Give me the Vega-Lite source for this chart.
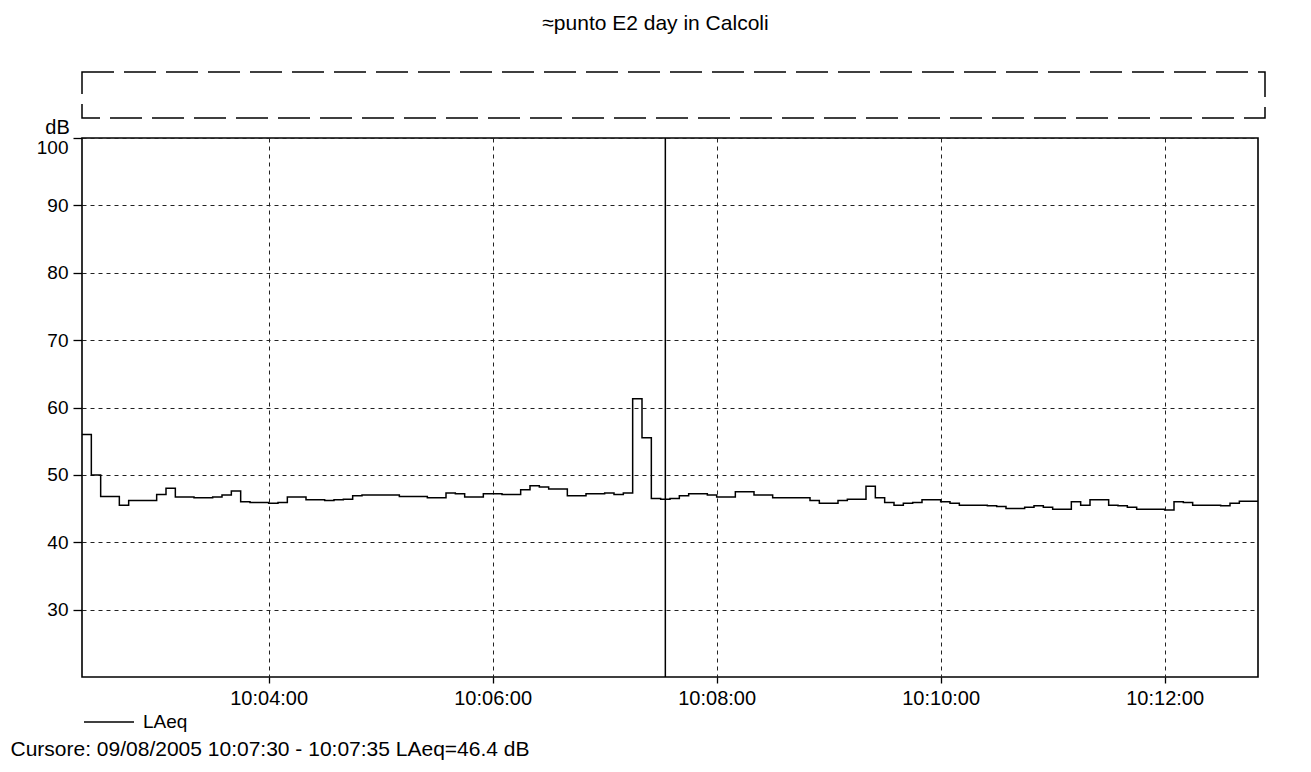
{
  "$schema": "https://vega.github.io/schema/vega-lite/v6.json",
  "padding": {"left": 9, "top": 13, "right": 10, "bottom": 5},
  "background": "white",
  "title": {"text": "≈punto E2 day in Calcoli", "fontSize": 21, "fontWeight": "normal", "font": "Liberation Sans", "color": "black", "offset": 37, "anchor": "middle", "dx": 18},
  "bounds": "flush",
  "spacing": 20,
  "config": {
    "font": "Liberation Sans",
    "view": {"stroke": "black", "strokeWidth": 1.6},
    "axis": {"labelColor": "black", "labelFontSize": 19, "labelFont": "Liberation Sans", "titleColor": "black", "titleFont": "Liberation Sans", "titleFontSize": 20, "titleFontWeight": "normal", "tickColor": "black", "tickWidth": 1.3, "gridColor": "#222222", "gridDash": [4, 4], "gridWidth": 1, "domain": false}
  },
  "vconcat": [
    {
      "width": 1183,
      "height": 46,
      "data": {"values": []},
      "mark": {"type": "point", "opacity": 0},
      "encoding": {},
      "view": {"stroke": "black", "strokeWidth": 1.5, "strokeDash": [32, 10]}
    },
    {
      "width": 1176,
      "height": 539,
      "layer": [
        {
          "data": {"values": [
            {"t": "2005-08-09T10:02:20", "v": 56.0},
            {"t": "2005-08-09T10:02:25", "v": 50.0},
            {"t": "2005-08-09T10:02:30", "v": 46.8},
            {"t": "2005-08-09T10:02:35", "v": 46.8},
            {"t": "2005-08-09T10:02:40", "v": 45.5},
            {"t": "2005-08-09T10:02:45", "v": 46.2},
            {"t": "2005-08-09T10:02:50", "v": 46.2},
            {"t": "2005-08-09T10:02:55", "v": 46.2},
            {"t": "2005-08-09T10:03:00", "v": 47.1},
            {"t": "2005-08-09T10:03:05", "v": 48.0},
            {"t": "2005-08-09T10:03:10", "v": 46.7},
            {"t": "2005-08-09T10:03:15", "v": 46.7},
            {"t": "2005-08-09T10:03:20", "v": 46.6},
            {"t": "2005-08-09T10:03:25", "v": 46.6},
            {"t": "2005-08-09T10:03:30", "v": 46.7},
            {"t": "2005-08-09T10:03:35", "v": 47.0},
            {"t": "2005-08-09T10:03:40", "v": 47.6},
            {"t": "2005-08-09T10:03:45", "v": 46.0},
            {"t": "2005-08-09T10:03:50", "v": 45.9},
            {"t": "2005-08-09T10:03:55", "v": 45.9},
            {"t": "2005-08-09T10:04:00", "v": 45.8},
            {"t": "2005-08-09T10:04:05", "v": 45.9},
            {"t": "2005-08-09T10:04:10", "v": 46.7},
            {"t": "2005-08-09T10:04:15", "v": 46.7},
            {"t": "2005-08-09T10:04:20", "v": 46.3},
            {"t": "2005-08-09T10:04:25", "v": 46.3},
            {"t": "2005-08-09T10:04:30", "v": 46.2},
            {"t": "2005-08-09T10:04:35", "v": 46.3},
            {"t": "2005-08-09T10:04:40", "v": 46.4},
            {"t": "2005-08-09T10:04:45", "v": 46.9},
            {"t": "2005-08-09T10:04:50", "v": 47.0},
            {"t": "2005-08-09T10:04:55", "v": 47.0},
            {"t": "2005-08-09T10:05:00", "v": 47.0},
            {"t": "2005-08-09T10:05:05", "v": 47.0},
            {"t": "2005-08-09T10:05:10", "v": 46.8},
            {"t": "2005-08-09T10:05:15", "v": 46.8},
            {"t": "2005-08-09T10:05:20", "v": 46.8},
            {"t": "2005-08-09T10:05:25", "v": 46.6},
            {"t": "2005-08-09T10:05:30", "v": 46.6},
            {"t": "2005-08-09T10:05:35", "v": 47.3},
            {"t": "2005-08-09T10:05:40", "v": 47.2},
            {"t": "2005-08-09T10:05:45", "v": 46.7},
            {"t": "2005-08-09T10:05:50", "v": 46.7},
            {"t": "2005-08-09T10:05:55", "v": 47.2},
            {"t": "2005-08-09T10:06:00", "v": 47.2},
            {"t": "2005-08-09T10:06:05", "v": 47.1},
            {"t": "2005-08-09T10:06:10", "v": 47.1},
            {"t": "2005-08-09T10:06:15", "v": 47.8},
            {"t": "2005-08-09T10:06:20", "v": 48.4},
            {"t": "2005-08-09T10:06:25", "v": 48.2},
            {"t": "2005-08-09T10:06:30", "v": 47.9},
            {"t": "2005-08-09T10:06:35", "v": 47.9},
            {"t": "2005-08-09T10:06:40", "v": 46.9},
            {"t": "2005-08-09T10:06:45", "v": 46.9},
            {"t": "2005-08-09T10:06:50", "v": 47.2},
            {"t": "2005-08-09T10:06:55", "v": 47.2},
            {"t": "2005-08-09T10:07:00", "v": 47.3},
            {"t": "2005-08-09T10:07:05", "v": 47.1},
            {"t": "2005-08-09T10:07:10", "v": 47.3},
            {"t": "2005-08-09T10:07:15", "v": 61.3},
            {"t": "2005-08-09T10:07:20", "v": 55.5},
            {"t": "2005-08-09T10:07:25", "v": 46.5},
            {"t": "2005-08-09T10:07:30", "v": 46.4},
            {"t": "2005-08-09T10:07:35", "v": 46.5},
            {"t": "2005-08-09T10:07:40", "v": 46.9},
            {"t": "2005-08-09T10:07:45", "v": 47.2},
            {"t": "2005-08-09T10:07:50", "v": 47.2},
            {"t": "2005-08-09T10:07:55", "v": 47.0},
            {"t": "2005-08-09T10:08:00", "v": 46.7},
            {"t": "2005-08-09T10:08:05", "v": 46.7},
            {"t": "2005-08-09T10:08:10", "v": 47.5},
            {"t": "2005-08-09T10:08:15", "v": 47.5},
            {"t": "2005-08-09T10:08:20", "v": 47.0},
            {"t": "2005-08-09T10:08:25", "v": 47.0},
            {"t": "2005-08-09T10:08:30", "v": 46.6},
            {"t": "2005-08-09T10:08:35", "v": 46.6},
            {"t": "2005-08-09T10:08:40", "v": 46.6},
            {"t": "2005-08-09T10:08:45", "v": 46.6},
            {"t": "2005-08-09T10:08:50", "v": 46.2},
            {"t": "2005-08-09T10:08:55", "v": 45.8},
            {"t": "2005-08-09T10:09:00", "v": 45.8},
            {"t": "2005-08-09T10:09:05", "v": 46.2},
            {"t": "2005-08-09T10:09:10", "v": 46.4},
            {"t": "2005-08-09T10:09:15", "v": 46.4},
            {"t": "2005-08-09T10:09:20", "v": 48.3},
            {"t": "2005-08-09T10:09:25", "v": 46.6},
            {"t": "2005-08-09T10:09:30", "v": 45.9},
            {"t": "2005-08-09T10:09:35", "v": 45.5},
            {"t": "2005-08-09T10:09:40", "v": 45.8},
            {"t": "2005-08-09T10:09:45", "v": 45.9},
            {"t": "2005-08-09T10:09:50", "v": 46.3},
            {"t": "2005-08-09T10:09:55", "v": 46.3},
            {"t": "2005-08-09T10:10:00", "v": 46.0},
            {"t": "2005-08-09T10:10:05", "v": 45.8},
            {"t": "2005-08-09T10:10:10", "v": 45.5},
            {"t": "2005-08-09T10:10:15", "v": 45.5},
            {"t": "2005-08-09T10:10:20", "v": 45.5},
            {"t": "2005-08-09T10:10:25", "v": 45.4},
            {"t": "2005-08-09T10:10:30", "v": 45.3},
            {"t": "2005-08-09T10:10:35", "v": 45.0},
            {"t": "2005-08-09T10:10:40", "v": 45.0},
            {"t": "2005-08-09T10:10:45", "v": 45.2},
            {"t": "2005-08-09T10:10:50", "v": 45.4},
            {"t": "2005-08-09T10:10:55", "v": 45.2},
            {"t": "2005-08-09T10:11:00", "v": 44.9},
            {"t": "2005-08-09T10:11:05", "v": 44.9},
            {"t": "2005-08-09T10:11:10", "v": 46.0},
            {"t": "2005-08-09T10:11:15", "v": 45.5},
            {"t": "2005-08-09T10:11:20", "v": 46.3},
            {"t": "2005-08-09T10:11:25", "v": 46.3},
            {"t": "2005-08-09T10:11:30", "v": 45.5},
            {"t": "2005-08-09T10:11:35", "v": 45.4},
            {"t": "2005-08-09T10:11:40", "v": 45.2},
            {"t": "2005-08-09T10:11:45", "v": 44.9},
            {"t": "2005-08-09T10:11:50", "v": 44.9},
            {"t": "2005-08-09T10:11:55", "v": 44.9},
            {"t": "2005-08-09T10:12:00", "v": 44.8},
            {"t": "2005-08-09T10:12:05", "v": 46.0},
            {"t": "2005-08-09T10:12:10", "v": 45.9},
            {"t": "2005-08-09T10:12:15", "v": 45.5},
            {"t": "2005-08-09T10:12:20", "v": 45.5},
            {"t": "2005-08-09T10:12:25", "v": 45.5},
            {"t": "2005-08-09T10:12:30", "v": 45.4},
            {"t": "2005-08-09T10:12:35", "v": 45.8},
            {"t": "2005-08-09T10:12:40", "v": 46.1},
            {"t": "2005-08-09T10:12:45", "v": 46.1},
            {"t": "2005-08-09T10:12:50", "v": 46.1}
          ]},
          "mark": {"type": "line", "interpolate": "step-after", "strokeWidth": 1.5},
          "encoding": {
            "x": {
              "field": "t", "type": "temporal",
              "scale": {"domain": [
                {"year": 2005, "month": 8, "date": 9, "hours": 10, "minutes": 2, "seconds": 20},
                {"year": 2005, "month": 8, "date": 9, "hours": 10, "minutes": 12, "seconds": 50}
              ], "nice": false},
              "axis": {
                "values": [
                  {"year": 2005, "month": 8, "date": 9, "hours": 10, "minutes": 4},
                  {"year": 2005, "month": 8, "date": 9, "hours": 10, "minutes": 6},
                  {"year": 2005, "month": 8, "date": 9, "hours": 10, "minutes": 8},
                  {"year": 2005, "month": 8, "date": 9, "hours": 10, "minutes": 10},
                  {"year": 2005, "month": 8, "date": 9, "hours": 10, "minutes": 12}
                ],
                "format": "%H:%M:%S",
                "grid": true,
                "tickSize": 6,
                "labelPadding": 5,
                "labelFontSize": 20,
                "labelFlush": false,
                "title": "Cursore: 09/08/2005 10:07:30 - 10:07:35  LAeq=46.4 dB",
                "titleFontSize": 21,
                "titleX": -72,
                "titleY": 72,
                "titleAlign": "left",
                "titleAnchor": "start",
                "titleBaseline": "middle"
              }
            },
            "y": {
              "field": "v", "type": "quantitative",
              "scale": {"domain": [20, 100], "nice": false, "zero": false},
              "axis": {
                "values": [30, 40, 50, 60, 70, 80, 90, 100],
                "grid": true,
                "labelFlush": true,
                "tickSize": 9,
                "labelPadding": 5,
                "title": "dB",
                "titleAngle": 0,
                "titleX": -25,
                "titleY": -11,
                "titleAlign": "center",
                "titleBaseline": "middle"
              }
            },
            "color": {
              "datum": "LAeq",
              "scale": {"range": ["black"]},
              "legend": {
                "orient": "none",
                "legendX": 1,
                "legendY": 624,
                "title": null,
                "symbolType": "stroke",
                "symbolSize": 2500,
                "symbolStrokeWidth": 1.5,
                "labelFontSize": 19,
                "labelColor": "black",
                "labelOffset": 8
              }
            }
          }
        },
        {
          "data": {"values": [{"cursor": "2005-08-09T10:07:32.500"}]},
          "mark": {"type": "rule", "color": "black", "strokeWidth": 1.5},
          "encoding": {"x": {"field": "cursor", "type": "temporal"}}
        }
      ]
    }
  ]
}
